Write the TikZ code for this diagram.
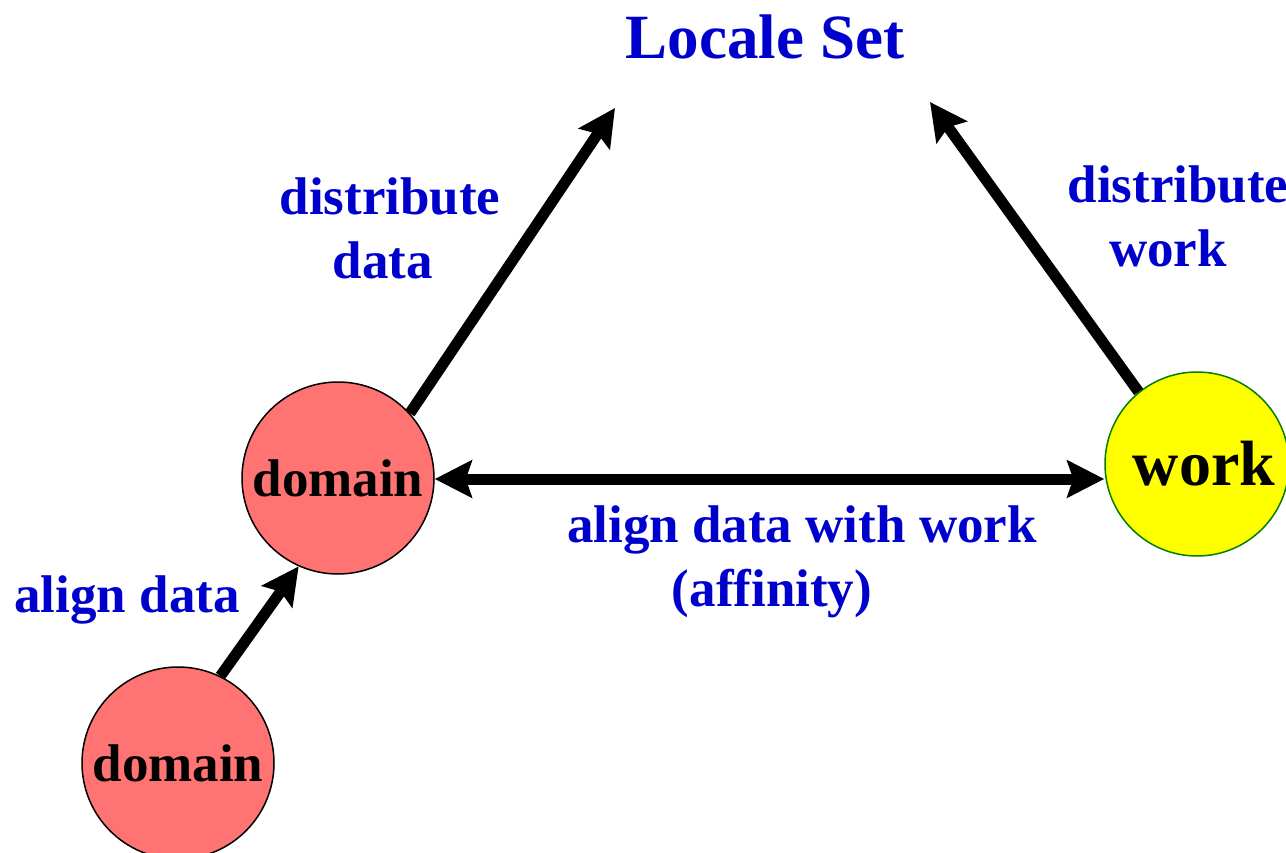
\documentclass[tikz,border=0pt]{standalone}
\usepackage{fontspec}
\setmainfont{Liberation Serif}
\usetikzlibrary{arrows.meta}
\definecolor{lblue}{RGB}{0,0,204}
\definecolor{dompink}{RGB}{255,115,115}
\definecolor{workgreen}{RGB}{0,128,0}
\definecolor{workyellow}{RGB}{255,255,0}
\tikzset{
  label text/.style={text=lblue, font=\bfseries\fontsize{53}{64}\selectfont, align=center, inner sep=0pt},
  domain node/.style={circle, draw=black, line width=1.5pt, fill=dompink, minimum size=192pt, inner sep=0pt,
    font=\bfseries\fontsize{53}{64}\selectfont},
  work node/.style={circle, draw=workgreen, line width=1.5pt, fill=workyellow, minimum size=184pt, inner sep=0pt,
    font=\bfseries\fontsize{64}{76}\selectfont},
  flow/.style={line width=11pt, -{Stealth[length=37pt,width=37pt,inset=6pt]}},
  both flow/.style={line width=11pt, {Stealth[length=37pt,width=37pt,inset=6pt]}-{Stealth[length=37pt,width=37pt,inset=6pt]}}
}
\begin{document}
\begin{tikzpicture}[x=1pt,y=-1pt]
  \useasboundingbox (0,0) rectangle (1286,853);

  % circles
  \node[domain node] (d1) at (338,478) {domain};
  \node[domain node] (d2) at (178,763) {domain};
  \node[work node] (work) at (1197,464) {\hspace*{14pt}work};

  % title
  \node[label text, font=\bfseries\fontsize{63}{76}\selectfont] (locale) at (765,37) {Locale Set};

  % arrow end points below the title
  \coordinate (tipA) at (615,108);
  \coordinate (tipB) at (930,102);

  % connectors
  \draw[flow] (d2.64) -- (d1.246);
  \draw[flow] (d1.42) -- (tipA);
  \draw[flow] (work.129) -- (tipB);
  \draw[both flow] ([yshift=-1pt]d1.east) -- ([yshift=-1pt]d1.east -| work.west);

  % labels
  \node[label text] (lbl1) at (390,228) {distribute\\data\hspace*{14pt}};
  \node[label text] (lbl2) at (1178,216) {distribute\\work\hspace*{20pt}};
  \node[label text] (lbl3) at (127,600) {align data};
  \node[label text] (lbl4) at (802,562) {align data with work\\(affinity)\hspace*{60pt}};
\end{tikzpicture}
\end{document}
